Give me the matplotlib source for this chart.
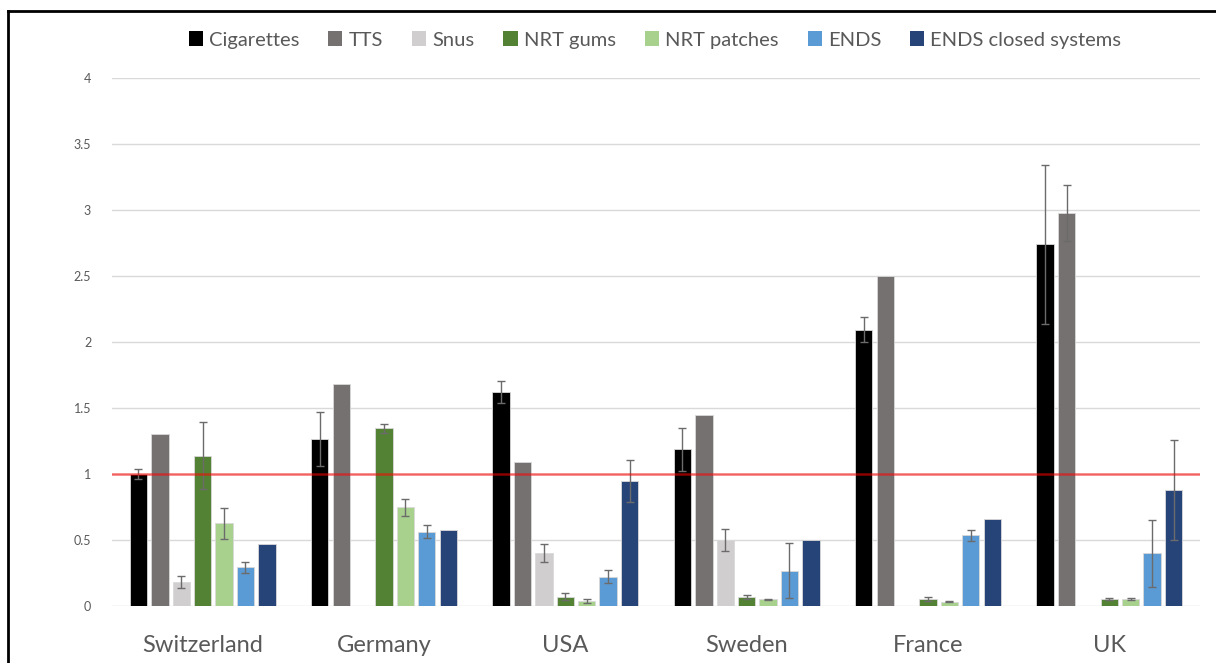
import numpy as np
import matplotlib.pyplot as plt
from matplotlib.patches import Patch
from matplotlib.lines import Line2D

countries = ["Switzerland", "Germany", "USA", "Sweden", "France", "UK"]
series = ["Cigarettes", "TTS", "Snus", "NRT gums", "NRT patches", "ENDS", "ENDS closed systems"]
colors = ["#000000", "#767171", "#d0cece", "#548235", "#a9d18e", "#5b9bd5", "#264478"]

nan = np.nan
cigarettes = [1.00, 1.265, 1.62, 1.187, 2.093, 2.74]
tts = [1.30, 1.68, 1.093, 1.444, 2.50, 2.975]
snus = [0.18, nan, 0.40, 0.50, nan, nan]
nrt_gums = [1.14, 1.346, 0.071, 0.071, 0.055, 0.053]
nrt_patches = [0.626, 0.748, 0.04, 0.051, 0.033, 0.053]
ends = [0.293, 0.563, 0.222, 0.268, 0.535, 0.40]
ends_closed = [0.47, 0.578, 0.949, 0.50, 0.662, 0.881]

cigarettes_err = [0.035, 0.205, 0.085, 0.163, 0.093, 0.60]
tts_err = [nan, nan, nan, nan, nan, 0.213]
snus_err = [0.047, nan, 0.066, 0.086, nan, nan]
nrt_gums_err = [0.255, 0.032, 0.028, 0.015, 0.014, 0.005]
nrt_patches_err = [0.117, 0.063, 0.015, 0.004, 0.003, 0.005]
ends_err = [0.04, 0.048, 0.047, 0.21, 0.042, 0.254]
ends_closed_err = [nan, nan, 0.16, nan, nan, 0.38]

values = [cigarettes, tts, snus, nrt_gums, nrt_patches, ends, ends_closed]
errors = [cigarettes_err, tts_err, snus_err, nrt_gums_err, nrt_patches_err, ends_err, ends_closed_err]

reference_level = 1.0
yticks = [0, 0.5, 1, 1.5, 2, 2.5, 3, 3.5, 4]
ytick_labels = ["0", "0.5", "1", "1.5", "2", "2.5", "3", "3.5", "4"]

text_color = "#595959"
font = ["Lato", "DejaVu Sans"]

fig = plt.figure(figsize=(12.16, 6.63), dpi=100)
ax = fig.add_axes([112 / 1216, 1 - 606 / 663, (1200 - 112) / 1216, (606 - 78) / 663])

x = np.arange(len(countries))
step = 0.118
width = 0.0955
for i, (vals, errs, col) in enumerate(zip(values, errors, colors)):
    pos = x + (i - 3) * step
    ax.bar(pos, vals, width=width, color=col, edgecolor="#d9d9d9", linewidth=0.6, zorder=3)
    ax.errorbar(pos, vals, yerr=errs, fmt="none", ecolor="#6b6b6b", elinewidth=1.0,
                capsize=3, capthick=1.0, zorder=4)

ax.axhline(reference_level, color="#ff0000", alpha=0.55, lw=1.8, zorder=5)

ax.set_ylim(0, 4)
ax.set_xlim(-0.5, len(countries) - 0.5)
ax.set_yticks(yticks)
ax.set_yticklabels(ytick_labels, fontsize=9, color=text_color, family=font)
ax.set_xticks(x)
ax.set_xticklabels(countries, fontsize=17, color=text_color, family=font)
ax.tick_params(axis="both", length=0)
ax.tick_params(axis="y", pad=15)
ax.tick_params(axis="x", pad=21)
ax.grid(axis="y", color="#d9d9d9", lw=1, zorder=0)
ax.set_axisbelow(True)
for s in ax.spines.values():
    s.set_visible(False)

handles = [Patch(facecolor=c, edgecolor="none") for c in colors]
fig.legend(handles, series, loc="center", bbox_to_anchor=(655 / 1216, 1 - 40 / 663), ncol=7,
           frameon=False, handlelength=0.7, handleheight=0.7, handletextpad=0.3,
           columnspacing=1.45, prop={"family": font, "size": 14.5}, labelcolor=text_color)

# outer frame (left and top edges)
fig.add_artist(Line2D([8 / 1216, 8 / 1216], [0, 1 - 11 / 663], transform=fig.transFigure,
                      color="black", lw=2))
fig.add_artist(Line2D([8 / 1216, 1], [1 - 11 / 663, 1 - 11 / 663], transform=fig.transFigure,
                      color="black", lw=2))

fig.savefig("out.png", dpi=100)
